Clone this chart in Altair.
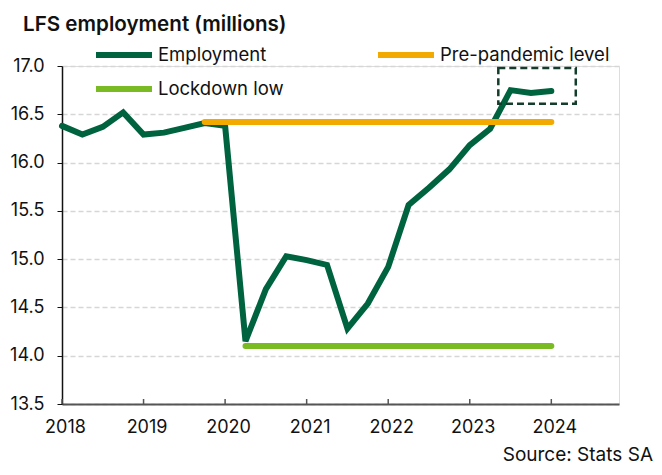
import altair as alt
import pandas as pd

# ---- data ----
quarters = ["2018Q1", "2018Q2", "2018Q3", "2018Q4",
            "2019Q1", "2019Q2", "2019Q3", "2019Q4",
            "2020Q1", "2020Q2", "2020Q3", "2020Q4",
            "2021Q1", "2021Q2", "2021Q3", "2021Q4",
            "2022Q1", "2022Q2", "2022Q3", "2022Q4",
            "2023Q1", "2023Q2", "2023Q3", "2023Q4",
            "2024Q1"]
employment = [16.38, 16.29, 16.37, 16.52,
              16.29, 16.31, 16.36, 16.41,
              16.38, 14.15, 14.69, 15.03,
              14.99, 14.94, 14.28, 14.54,
              14.92, 15.56, 15.74, 15.93,
              16.18, 16.35, 16.75, 16.72,
              16.74]

prepandemic_x = [2019.75, 2024.0]
prepandemic_y = [16.42, 16.42]
lockdown_x = [2020.25, 2024.0]
lockdown_y = [14.10, 14.10]

box_x = [2023.35]
box_x2 = [2024.30]
box_y = [16.61]
box_y2 = [16.98]

years = [2018, 2019, 2020, 2021, 2022, 2023, 2024]
y_ticks = [13.5, 14.0, 14.5, 15.0, 15.5, 16.0, 16.5, 17.0]

series_names = ["Employment", "Pre-pandemic level", "Lockdown low"]
series_colors = ["#00633f", "#f2a900", "#7aba22"]

title_text = "LFS employment (millions)"
source_text = "Source: Stats SA"

FONT = "Inter"
W, H = 557, 338

def qnum(q):
    return int(q[:4]) + (int(q[-1]) - 1) / 4

emp_df = pd.DataFrame({
    "t": [qnum(q) for q in quarters],
    "value": employment,
    "series": "Employment",
})
ref_df = pd.concat([
    pd.DataFrame({"t": prepandemic_x, "value": prepandemic_y, "series": "Pre-pandemic level"}),
    pd.DataFrame({"t": lockdown_x, "value": lockdown_y, "series": "Lockdown low"}),
])
box_df = pd.DataFrame({"x": box_x, "x2": box_x2, "y": box_y, "y2": box_y2})
tick_df = pd.DataFrame({"t": years})

xscale = alt.Scale(domain=[2018, 2024.83], nice=False, zero=False)
yscale = alt.Scale(domain=[13.5, 17.0], nice=False, zero=False)

color = alt.Color(
    "series:N",
    scale=alt.Scale(domain=series_names, range=series_colors),
    sort=series_names,
    legend=alt.Legend(
        title=None, orient="none", legendX=49, legendY=-24,
        direction="horizontal", columns=2,
        symbolType="M-2.8,0L2.8,0", symbolSize=400, symbolStrokeWidth=6,
        labelFont=FONT, labelFontSize=18.5, labelColor="#111111",
        labelOffset=21, columnPadding=82, rowPadding=9, padding=0,
        labelLimit=400,
    ),
)

x_enc = alt.X(
    "t:Q", scale=xscale, title=None,
    axis=alt.Axis(values=years, format="d", grid=False, ticks=False,
                  labelFont=FONT, labelFontSize=18, labelColor="#111111",
                  labelPadding=14, labelOffset=3, domainColor="#555555", domainWidth=2,
                  labelFlush=False),
)
y_enc = alt.Y(
    "value:Q", scale=yscale, title=None,
    axis=alt.Axis(values=y_ticks, format=".1f", grid=True,
                  gridColor="#d6d6d6", gridDash=[5, 3], gridWidth=1.5,
                  labelFont=FONT, labelFontSize=18, labelColor="#111111",
                  labelPadding=13, tickSize=5, tickColor="#111111",
                  domainColor="#111111", domainWidth=1.5),
)

emp_line = alt.Chart(emp_df).mark_line(strokeWidth=6, strokeCap="round").encode(
    x=x_enc, y=y_enc, color=color,
)
ref_lines = alt.Chart(ref_df).mark_line(strokeWidth=6, strokeCap="round").encode(
    x="t:Q", y="value:Q", color=color, detail="series:N",
)
box = alt.Chart(box_df).mark_rect(
    fill=None, fillOpacity=0, stroke="#143d2c", strokeWidth=2.5, strokeDash=[7, 4]
).encode(x="x:Q", x2="x2:Q", y="y:Q", y2="y2:Q")

ticks = alt.Chart(tick_df).mark_rule(color="#555555", strokeWidth=1.5).encode(
    x="t:Q", y=alt.value(H), y2=alt.value(H - 5),
)

title_mark = alt.Chart(pd.DataFrame({"txt": [title_text]})).mark_text(
    font=FONT, fontSize=20.6, fontWeight=600, align="left", baseline="alphabetic",
    color="#111111",
).encode(text="txt:N", x=alt.value(-39), y=alt.value(-35))

source_mark = alt.Chart(pd.DataFrame({"txt": [source_text]})).mark_text(
    font=FONT, fontSize=19, align="right", baseline="alphabetic", color="#111111",
).encode(text="txt:N", x=alt.value(W + 34), y=alt.value(H + 57))

chart = alt.layer(
    emp_line, ref_lines, box, ticks, title_mark, source_mark
).properties(
    width=W, height=H,
    autosize=alt.AutoSizeParams(type="none"),
    padding={"left": 54, "top": 58, "right": 35, "bottom": 63},
).configure_view(stroke=None).configure(background="white")

chart.save("out.html", embed_options={"renderer": "svg", "actions": False})
